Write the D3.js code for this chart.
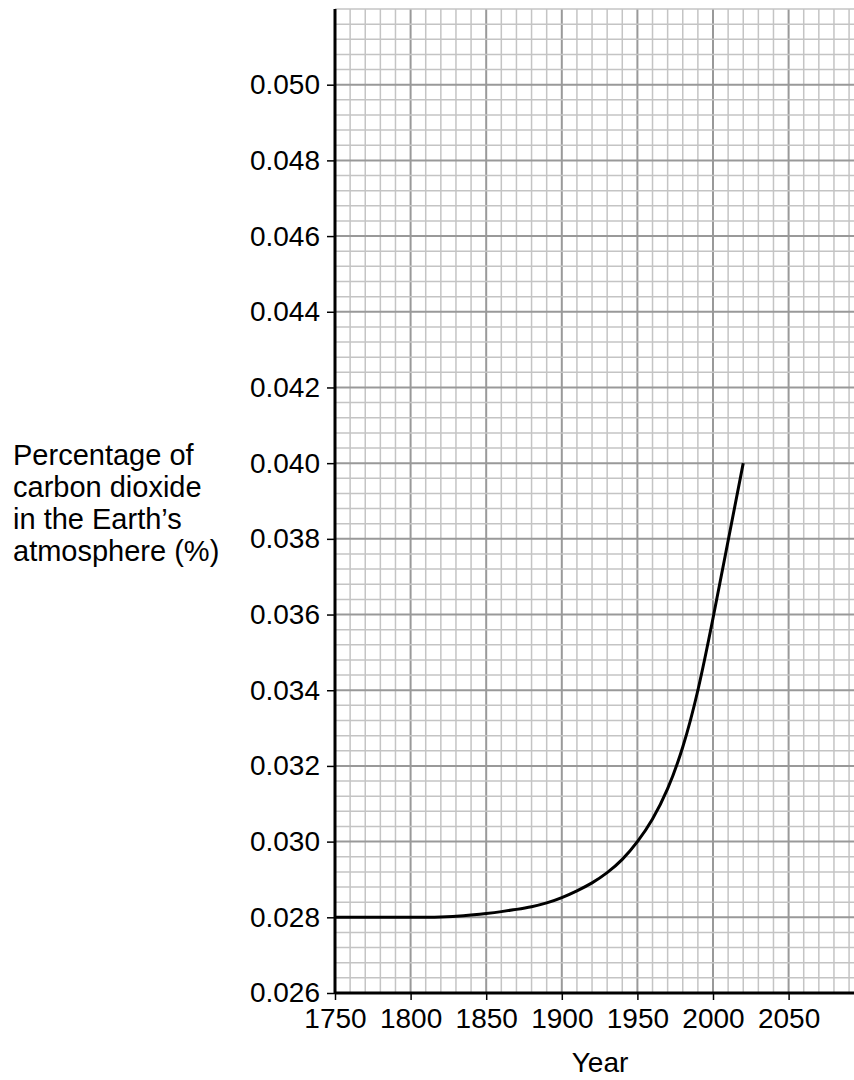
<!DOCTYPE html>
<html>
<head>
<meta charset="utf-8">
<script src="https://cdn.jsdelivr.net/npm/d3@7"></script>
<style>
  body { margin: 0; background: #fff; }
  svg { display: block; font-family: "Liberation Sans", Arial, sans-serif; }
  .axis text { font-size: 28px; fill: #000; font-family: "Liberation Sans", Arial, sans-serif; }
  .axis line { stroke: #000; stroke-width: 1.5; }
  .axis path { stroke: #000; stroke-width: 3; }
</style>
</head>
<body>
<svg id="chart" width="854" height="1080"></svg>
<script>
// years and CO2 percentage
var years  = [1750, 1775, 1800, 1820, 1835, 1850, 1860, 1870, 1880, 1890, 1900, 1910, 1920, 1930, 1940,
              1950, 1960, 1970, 1980, 1990, 2000, 2010, 2020]
var co2pct = [0.0280, 0.0280, 0.0280, 0.02801, 0.02804, 0.02810, 0.02815, 0.02821, 0.02828, 0.02838, 0.02852, 0.02870, 0.02891, 0.02918, 0.02953,
              0.03000, 0.03060, 0.03140, 0.03250, 0.03400, 0.03590, 0.03795, 0.04000]

var xTicks = [1750, 1800, 1850, 1900, 1950, 2000, 2050]
var yTicks = [0.026, 0.028, 0.030, 0.032, 0.034, 0.036, 0.038, 0.040, 0.042, 0.044, 0.046, 0.048, 0.050]
var yLabelLines = ["Percentage of", "carbon dioxide", "in the Earth\u2019s", "atmosphere (%)"]

var svg = d3.select("#chart")
var x = d3.scaleLinear().domain([1750, 2100]).range([335, 864.2])
var y = d3.scaleLinear().domain([0.026, 0.052]).range([993, 9])

// graph paper grid
var gridV = d3.range(1750, 2101, 10)
var gridH = d3.range(0, 66).map(function(i){ return 0.026 + i*0.0004 })

svg.append("g").selectAll("line")
    .data(gridV)
    .enter().append("line")
    .attr("x1", function(d){ return x(d) }).attr("x2", function(d){ return x(d) })
    .attr("y1", y(0.052)).attr("y2", y(0.026))
    .attr("stroke", function(d){ return (d - 1750) % 50 == 0 ? "#999" : "#c4c4c4" })
    .attr("stroke-width", function(d){ return (d - 1750) % 50 == 0 ? 2 : 1.5 })

svg.append("g").selectAll("line")
    .data(gridH)
    .enter().append("line")
    .attr("x1", x(1750)).attr("x2", 854)
    .attr("y1", function(d){ return y(d) }).attr("y2", function(d){ return y(d) })
    .attr("stroke", function(d, i){ return i % 5 == 0 && i < 65 ? "#999" : "#c4c4c4" })
    .attr("stroke-width", function(d, i){ return i % 5 == 0 && i < 65 ? 2 : 1.5 })

// axes
var yAxis = d3.axisLeft(y).tickValues(yTicks).tickSize(8).tickPadding(7)
    .tickFormat(d3.format(".3f")).tickSizeOuter(0)
svg.append("g").attr("class", "axis")
    .attr("transform", "translate(" + x(1750) + ",0)")
    .call(yAxis)
    .select(".domain").attr("d", "M0," + y(0.052) + "V" + y(0.026))

var xAxis = d3.axisBottom(x).tickValues(xTicks).tickSize(7).tickPadding(8)
    .tickFormat(d3.format("d")).tickSizeOuter(0)
svg.append("g").attr("class", "axis")
    .attr("transform", "translate(0," + y(0.026) + ")")
    .call(xAxis)
    .select(".domain").attr("d", "M" + x(1750) + ",0H854")

// curve
var pts = years.map(function(d, i){ return [d, co2pct[i]] })
var line = d3.line()
    .x(function(d){ return x(d[0]) })
    .y(function(d){ return y(d[1]) })
    .curve(d3.curveNatural)
svg.append("path").datum(pts)
    .attr("d", line)
    .attr("fill", "none")
    .attr("stroke", "#000")
    .attr("stroke-width", 3)

// axis titles
svg.append("text").text("Year")
    .attr("x", 600).attr("y", 1072)
    .attr("text-anchor", "middle")
    .attr("font-size", 28)

svg.append("text").selectAll("tspan")
    .data(yLabelLines)
    .enter().append("tspan")
    .attr("x", 13)
    .attr("y", function(d, i){ return 465 + i*32 })
    .attr("font-size", 29)
    .text(function(d){ return d })
</script>
</body>
</html>
